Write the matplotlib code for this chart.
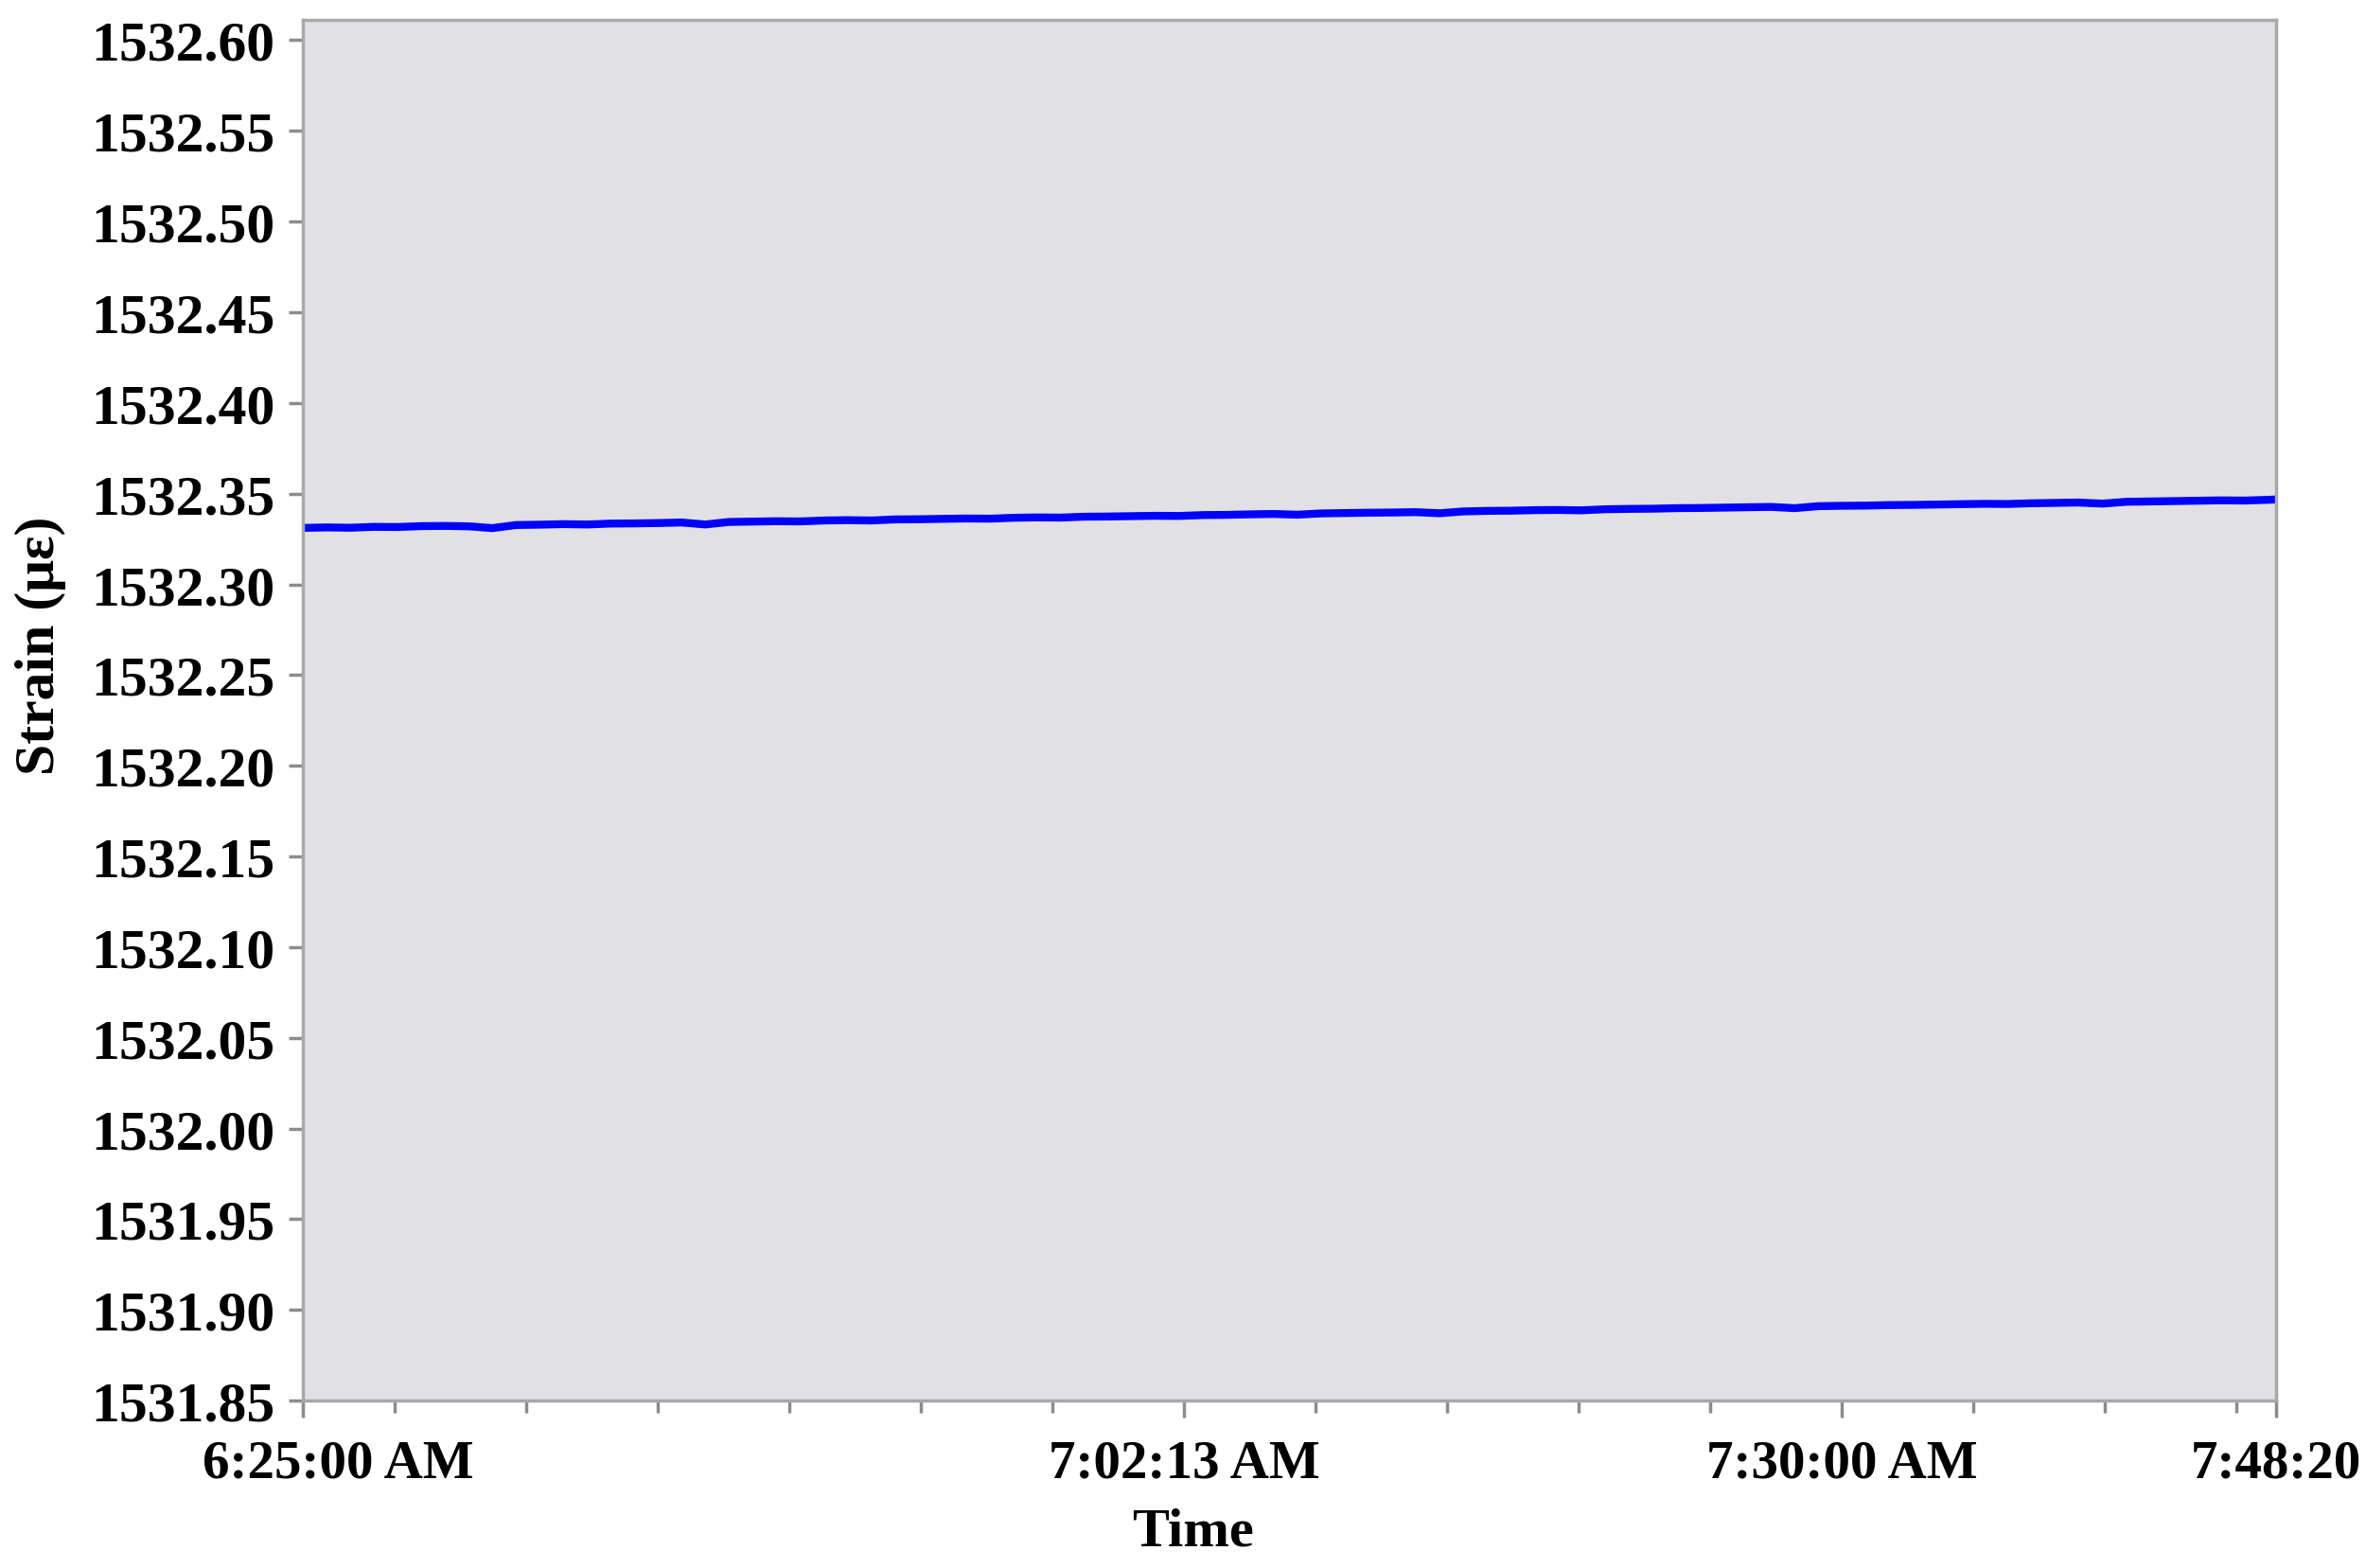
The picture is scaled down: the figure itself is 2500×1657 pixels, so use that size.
import datetime as dt
import numpy as np
import matplotlib
matplotlib.use("Agg")
import matplotlib.pyplot as plt
import matplotlib.dates as mdates
from matplotlib.transforms import ScaledTranslation

# sample times, minutes after 6:25:00
minutes = list(range(84)) + [83.333]
strain = [
    1532.3311, 1532.3314, 1532.3312, 1532.3317, 1532.3316, 1532.3321, 1532.3322, 1532.3320,
    1532.3310, 1532.3327, 1532.3329, 1532.3332, 1532.3330, 1532.3335, 1532.3336, 1532.3338,
    1532.3341, 1532.3330, 1532.3344, 1532.3346, 1532.3348, 1532.3347, 1532.3352, 1532.3354,
    1532.3352, 1532.3358, 1532.3359, 1532.3361, 1532.3363, 1532.3362, 1532.3367, 1532.3369,
    1532.3368, 1532.3373, 1532.3374, 1532.3376, 1532.3378, 1532.3377, 1532.3382, 1532.3383,
    1532.3386, 1532.3388, 1532.3384, 1532.3391, 1532.3393, 1532.3395, 1532.3396, 1532.3398,
    1532.3392, 1532.3402, 1532.3405, 1532.3406, 1532.3409, 1532.3410, 1532.3408, 1532.3414,
    1532.3416, 1532.3417, 1532.3420, 1532.3421, 1532.3423, 1532.3425, 1532.3427, 1532.3420,
    1532.3431, 1532.3433, 1532.3434, 1532.3437, 1532.3438, 1532.3440, 1532.3442, 1532.3444,
    1532.3443, 1532.3447, 1532.3449, 1532.3451, 1532.3445, 1532.3455, 1532.3457, 1532.3459,
    1532.3461, 1532.3463, 1532.3462, 1532.3466, 1532.3468,
]

major_ticks = ["6:25:00", "7:02:13", "7:30:00", "7:48:20"]
major_labels = ["6:25:00 AM", "7:02:13 AM", "7:30:00 AM", "7:48:20"]
minor_ticks = ["6:28:53", "6:34:26", "6:40:00", "6:45:33", "6:51:06", "6:56:40",
               "7:07:46", "7:13:20", "7:18:53", "7:24:26", "7:35:33", "7:41:06", "7:46:40"]
y_ticks = [1531.85, 1531.90, 1531.95, 1532.00, 1532.05, 1532.10, 1532.15, 1532.20,
           1532.25, 1532.30, 1532.35, 1532.40, 1532.45, 1532.50, 1532.55, 1532.60]

day = dt.datetime(2020, 1, 1)
start = day.replace(hour=6, minute=25)


def to_time(s):
    h, m, sec = [int(v) for v in s.split(":")]
    return day.replace(hour=h, minute=m, second=sec)


times = [start + dt.timedelta(minutes=m) for m in minutes]

plt.rcParams['font.family'] = ['Liberation Serif', 'DejaVu Serif']
plt.rcParams['font.weight'] = 'bold'

fig = plt.figure(figsize=(25, 16.58), dpi=100)
ax = fig.add_axes([0.128, 0.1067, 0.962 - 0.128, 0.9865 - 0.1067])
ax.set_facecolor('#e1e0e5')

ax.plot(times, strain, color='#0000ff', lw=6, solid_joinstyle='round')

ax.set_xlim(to_time(major_ticks[0]), to_time(major_ticks[-1]))
ax.set_ylim(1531.85, 1532.611)
ax.set_yticks(y_ticks)
ax.set_yticklabels([f"{v:.2f}" for v in y_ticks])
ax.set_xticks([mdates.date2num(to_time(t)) for t in major_ticks])
ax.set_xticklabels(major_labels)
ax.set_xticks([mdates.date2num(to_time(t)) for t in minor_ticks], minor=True)

for sp in ax.spines.values():
    sp.set_color('#a8a8a8')
    sp.set_linewidth(2.5)

ax.tick_params(axis='y', length=11, width=2.5, color='#8c8c8c', pad=10,
               labelsize=43)
ax.tick_params(axis='x', which='major', length=13, width=2.5, color='#8c8c8c',
               pad=16, labelsize=41)
ax.tick_params(axis='x', which='minor', length=9, width=2.5, color='#8c8c8c')

first = ax.get_xticklabels()[0]
first.set_transform(first.get_transform() + ScaledTranslation(0.37, 0, fig.dpi_scale_trans))

ax.text(0.451, -0.095, "Time", transform=ax.transAxes, ha='center', va='center',
        fontsize=42, fontweight='bold')
ax.text(-0.133, 0.5475, "Strain (με)", transform=ax.transAxes, ha='center', va='center',
        rotation=90, fontsize=43, fontweight='bold')

fig.savefig("out.png", dpi=100)
